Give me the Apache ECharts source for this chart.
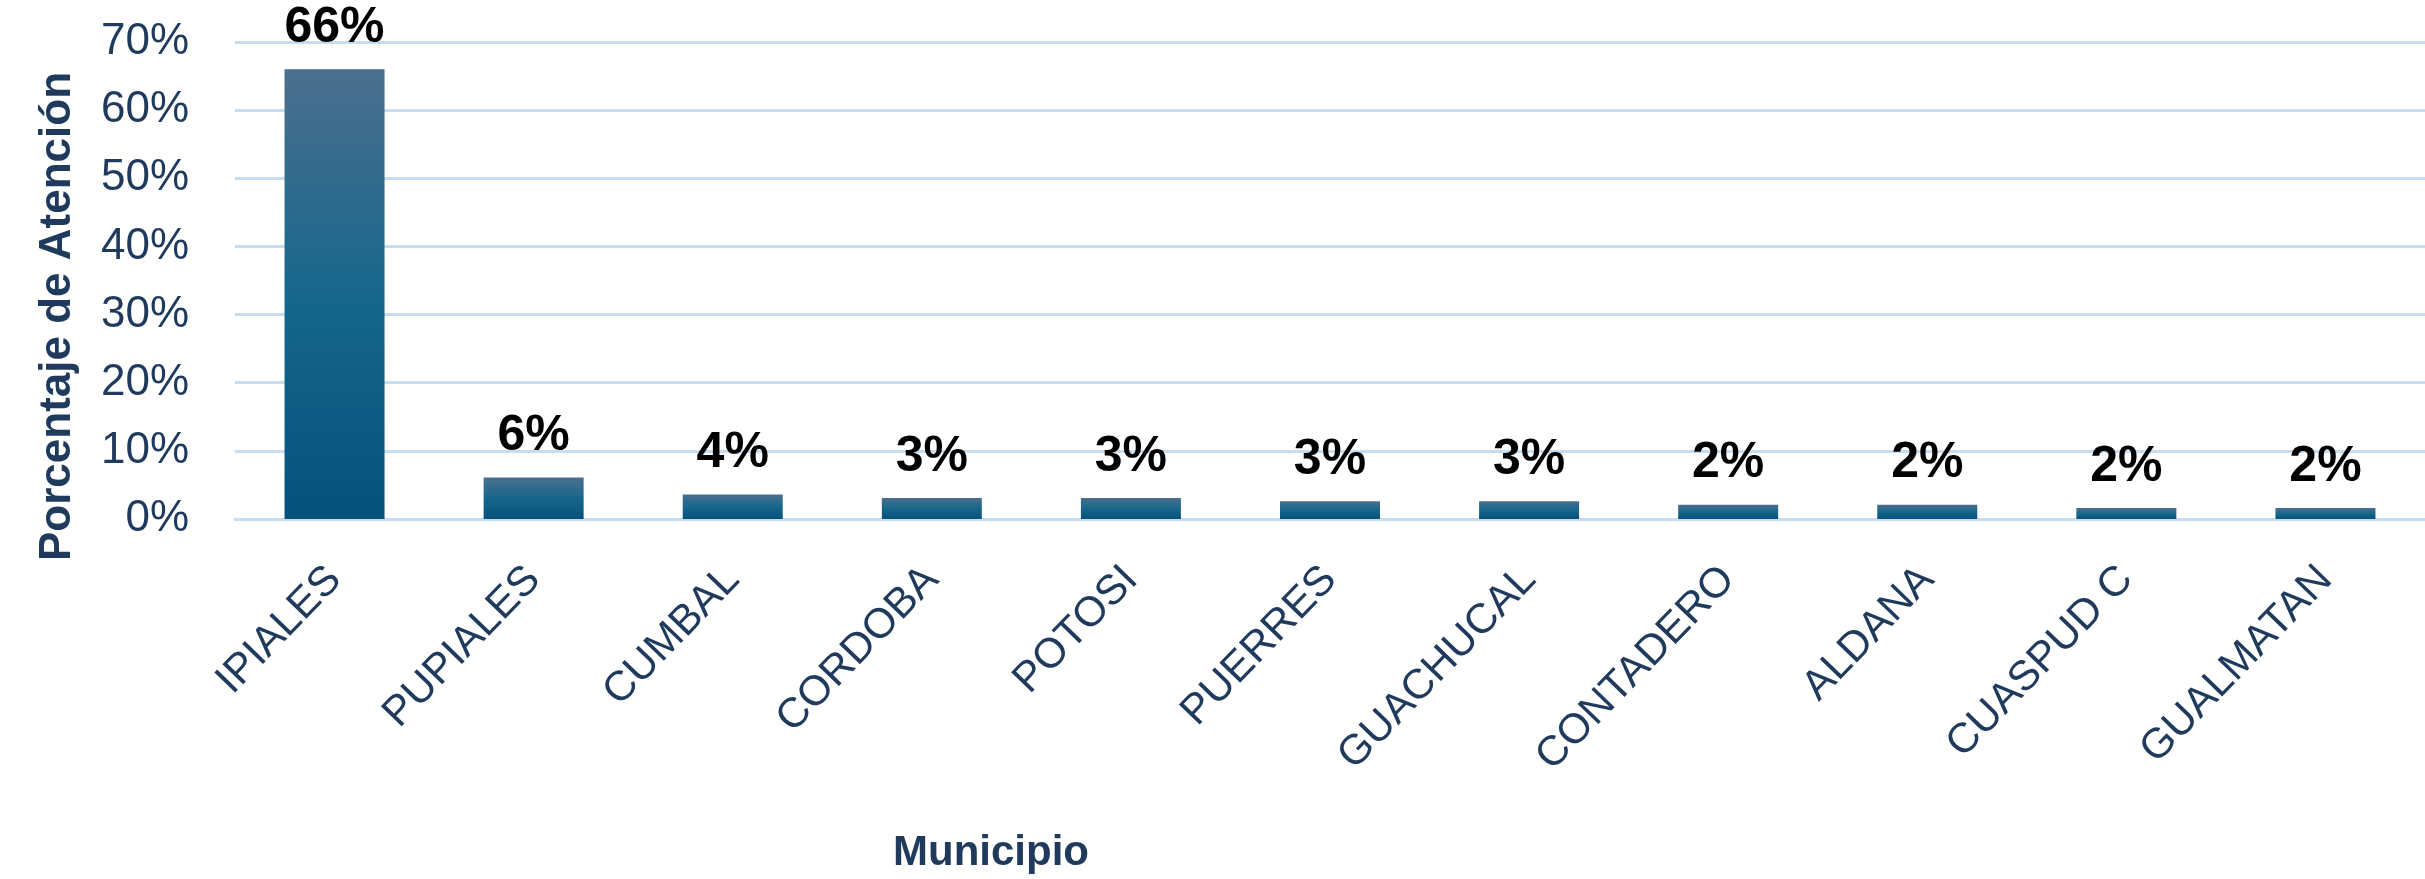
<!DOCTYPE html>
<html>
<head>
<meta charset="utf-8">
<script src="https://cdn.jsdelivr.net/npm/echarts@6/dist/echarts.min.js"></script>
<style>
  html, body { margin: 0; padding: 0; background: #fff; }
  #chart { width: 2425px; height: 879px; }
</style>
</head>
<body>
<div id="chart"></div>
<script>
// municipios y porcentaje de atención
var municipios = ['IPIALES', 'PUPIALES', 'CUMBAL', 'CORDOBA', 'POTOSI', 'PUERRES',
    'GUACHUCAL', 'CONTADERO', 'ALDANA', 'CUASPUD C', 'GUALMATAN'];
var porcentajes = [66, 6.1, 3.6, 3.1, 3.1, 2.6, 2.6, 2.1, 2.1, 1.6, 1.6];

var azul = '#1f3a5c';
var rejilla = '#c6dcef';

var myChart = echarts.init(document.getElementById('chart'));

myChart.setOption({
    backgroundColor: '#fff',
    animation: false,
    grid: {
        left: 235,
        top: 42,
        width: 2219,
        height: 479
    },
    xAxis: {
        type: 'category',
        data: municipios,
        name: 'Municipio',
        nameLocation: 'middle',
        nameGap: 313,
        nameTextStyle: {
            fontFamily: 'Liberation Sans',
            fontWeight: 'bold',
            fontSize: 42,
            color: azul,
            padding: [0, 678, 0, 0]
        },
        axisLine: { lineStyle: { color: rejilla, width: 3 } },
        axisTick: { show: false },
        axisLabel: {
            rotate: 46,
            margin: 54,
            fontFamily: 'Liberation Sans',
            fontSize: 42,
            color: azul
        }
    },
    yAxis: {
        type: 'value',
        min: 0,
        max: 70,
        interval: 10,
        name: 'Porcentaje de Atención',
        nameLocation: 'middle',
        nameGap: 155,
        nameTextStyle: {
            fontFamily: 'Liberation Sans',
            fontWeight: 'bold',
            fontSize: 44,
            color: azul,
            padding: [0, 72, 0, 0]
        },
        axisLine: { show: false },
        axisTick: { show: false },
        splitLine: { lineStyle: { color: rejilla, width: 3 } },
        axisLabel: {
            formatter: '{value}%',
            margin: 46,
            fontFamily: 'Liberation Sans',
            fontSize: 44,
            color: azul
        }
    },
    series: [{
        type: 'bar',
        data: porcentajes,
        barWidth: 100,
        itemStyle: {
            color: new echarts.graphic.LinearGradient(0, 0, 0, 1, [
                { offset: 0, color: '#4b6f8e' },
                { offset: 0.5, color: '#17678c' },
                { offset: 1, color: '#05517a' }
            ])
        },
        label: {
            show: true,
            position: 'top',
            distance: 16,
            formatter: function (p) { return Math.round(p.value) + '%'; },
            fontFamily: 'Liberation Sans',
            fontWeight: 'bold',
            fontSize: 50,
            color: '#000'
        }
    }]
});
</script>
</body>
</html>
